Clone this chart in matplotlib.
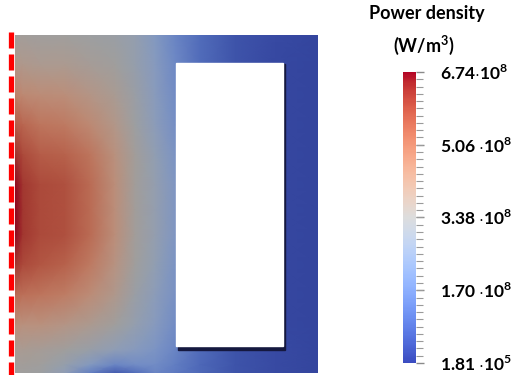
import numpy as np
import matplotlib
matplotlib.use("Agg")
import matplotlib.pyplot as plt
from matplotlib.colors import ListedColormap, Normalize
from matplotlib.cm import ScalarMappable
from matplotlib.patches import Rectangle
from matplotlib.lines import Line2D
from matplotlib.ticker import FixedLocator

plt.rcParams['font.family'] = ['Lato', 'DejaVu Sans']
plt.rcParams['mathtext.fontset'] = 'custom'
plt.rcParams['mathtext.rm'] = 'Lato:bold'
plt.rcParams['mathtext.bf'] = 'Lato:bold'

# field samples in 1e8 W/m^3, positions in pixels of the field window
xs = [0, 8, 25, 50, 75, 100, 120, 140, 160, 185, 220, 260, 303]
ys = [0, 30, 60, 90, 120, 150, 175, 200, 230, 260, 290, 315, 330, 338]
power = [
    [3.5, 3.5, 3.4, 3.4, 3.3, 3.2, 2.9, 2.3, 1.6, 1.0, 0.5, 0.3, 0.2],
    [4.0, 3.9, 3.8, 3.8, 3.6, 3.4, 3.0, 2.4, 1.7, 1.0, 0.5, 0.25, 0.2],
    [4.8, 4.6, 4.5, 4.4, 4.1, 3.7, 3.2, 2.5, 1.8, 1.0, 0.5, 0.25, 0.2],
    [5.6, 5.4, 5.1, 5.0, 4.6, 4.0, 3.3, 2.6, 1.9, 1.0, 0.5, 0.25, 0.2],
    [6.3, 5.9, 5.6, 5.5, 5.1, 4.3, 3.5, 2.8, 2.1, 1.1, 0.5, 0.25, 0.2],
    [6.7, 6.2, 5.9, 5.8, 5.3, 4.4, 3.5, 2.9, 2.2, 1.1, 0.5, 0.25, 0.2],
    [6.74, 6.2, 5.9, 5.8, 5.3, 4.4, 3.5, 2.9, 2.2, 1.1, 0.5, 0.25, 0.2],
    [6.7, 6.2, 5.9, 5.8, 5.3, 4.4, 3.5, 2.9, 2.2, 1.1, 0.5, 0.25, 0.2],
    [6.2, 5.9, 5.7, 5.5, 5.0, 4.2, 3.4, 2.8, 2.1, 1.1, 0.5, 0.25, 0.2],
    [5.3, 5.2, 5.1, 4.9, 4.5, 3.9, 3.2, 2.6, 2.0, 1.1, 0.5, 0.25, 0.2],
    [4.4, 4.3, 4.3, 4.1, 3.8, 3.4, 2.9, 2.4, 1.8, 1.0, 0.5, 0.25, 0.2],
    [3.7, 3.7, 3.6, 3.4, 3.1, 2.7, 2.4, 2.1, 1.6, 1.0, 0.5, 0.3, 0.2],
    [3.5, 3.5, 3.4, 3.0, 2.3, 1.6, 1.8, 1.8, 1.4, 0.9, 0.5, 0.3, 0.2],
    [3.4, 3.4, 3.3, 2.7, 1.4, 0.6, 1.0, 1.6, 1.3, 0.9, 0.5, 0.3, 0.2],
]
vmin, vmax = 0.00181, 6.74
tick_vals = [0.00181, 1.70, 3.38, 5.06, 6.74]
tick_labels = [r"1.81 $\cdot$10$^5$", r"1.70 $\cdot$10$^8$", r"3.38 $\cdot$10$^8$",
               r"5.06 $\cdot$10$^8$", r"6.74$\cdot$10$^8$"]

W, H = 522, 375
fig = plt.figure(figsize=(W / 100, H / 100), dpi=100)

def px_axes(x0, y0, x1, y1):
    return fig.add_axes([x0 / W, 1 - y1 / H, (x1 - x0) / W, (y1 - y0) / H])

# shaded field (ParaView lighting makes it darker than the bar)
t = np.linspace(0, 1, 256)
dark = plt.get_cmap('coolwarm')(t)
shade = 0.78 - 0.06 * np.exp(-((t - 0.5) / 0.15) ** 2)
dark[:, :3] *= shade[:, None]
field_cmap = ListedColormap(dark)
norm = Normalize(vmin, vmax)

ax = px_axes(15, 35, 318, 373)
X, Y = np.meshgrid(xs, ys)
ax.pcolormesh(X, Y, np.array(power), cmap=field_cmap, norm=norm, shading='gouraud')
ax.add_patch(Rectangle((162.5, 29), 107.5, 286, color='#15183f', zorder=3))
ax.add_patch(Rectangle((161, 27.5), 106.5, 283.5, color='white', zorder=4))
ax.set_xlim(0, 303)
ax.set_ylim(338, 0)
ax.axis('off')

# red dashed symmetry axis
fig.add_artist(Line2D([10.5 / W, 10.5 / W], [1 - 32 / H, 0], color='#ff0000',
                      linewidth=3.8, dashes=(16 * 0.72 / 3.8, 6 * 0.72 / 3.8),
                      solid_capstyle='butt', dash_capstyle='butt'))

# colorbar
cax = px_axes(403, 72, 416, 363)
cb = fig.colorbar(ScalarMappable(norm=norm, cmap='coolwarm'), cax=cax)
cb.outline.set_visible(False)
cb.set_ticks(tick_vals)
cb.set_ticklabels(tick_labels)
cax.yaxis.set_minor_locator(FixedLocator(np.linspace(vmin, vmax, 41)))
cax.tick_params(which='major', length=6, width=1, color='#8a8a8a', pad=11,
                labelsize=12.5)
cax.tick_params(which='minor', length=5, width=0.8, color='#9a9a9a')
for lab in cax.get_yticklabels():
    lab.set_fontweight('bold')

fig.text(427 / W, 1 - 13 / H, "Power density", ha='center', va='center',
         fontsize=13, fontweight='bold')
fig.text(424 / W, 1 - 45 / H, "(W/m$^3$)", ha='center', va='center',
         fontsize=13, fontweight='bold')

fig.savefig("out.png", dpi=100)
